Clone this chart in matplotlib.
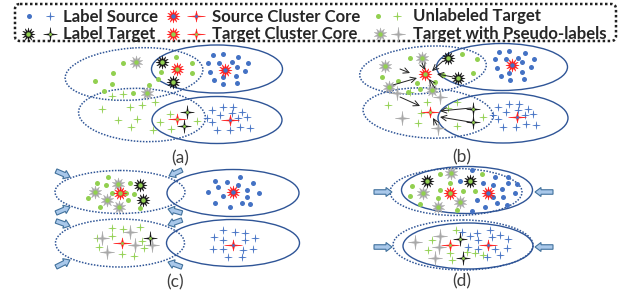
import numpy as np
import matplotlib.pyplot as plt
from matplotlib.patches import Ellipse, FancyArrow, FancyBboxPatch
from matplotlib.path import Path
from matplotlib.transforms import Affine2D

# colours
BLUE = '#4472C4'
GREEN = '#92D050'
RED = '#FF1A1A'
GRAY = '#A8A8A8'
BLACK = '#111111'
LINE = '#2F5597'

# ---------------- legend ----------------
legend_rows = [
    ['Label Source', 'Source Cluster Core', 'Unlabeled Target'],
    ['Label Target', 'Target Cluster Core', 'Target with Pseudo-labels'],
]
panel_names = ['(a)', '(b)', '(c)', '(d)']

# ---------------- panel (a) ----------------
a_ellipses = [  # cx, cy, w, h, angle, dotted
    (134, 74, 138, 52, -4, True), (217, 69, 131, 48, 0, False),
    (142, 115, 127, 53, 3, True), (217, 120, 130, 47, 0, False)]
a_green_dots = [(123, 63), (113, 73), (95, 81), (112, 84), (104, 91), (133, 93), (149, 85),
                (176, 57), (192, 63), (161, 72), (192, 73), (158, 79)]
a_gray_stars = [(136, 62), (147, 93)]
a_black_stars = [(162, 62), (173, 82)]
a_core_t = [(177, 69)]
a_blue_dots = [(213, 55), (223, 54), (238, 57), (208, 63), (219, 63), (232, 62), (248, 63),
               (210, 72), (245, 71), (237, 67), (223, 77), (236, 76), (214, 80), (223, 84), (237, 83)]
a_core_s = [(225, 70)]
a_green_plus = [(102, 109), (112, 96), (123, 94), (130, 107), (142, 105), (155, 102), (118, 120),
                (137, 119), (131, 127), (153, 130), (160, 122), (170, 114), (171, 129), (197, 121)]
a_black_plus = [(187, 112), (184, 126)]
a_core_tp = [(177, 119)]
a_blue_plus = [(212, 110), (223, 107), (233, 107), (220, 115), (232, 113), (242, 112), (212, 122),
               (238, 118), (247, 117), (217, 130), (230, 130), (240, 127), (250, 128), (207, 118)]
a_core_sp = [(230, 120)]

# ---------------- panel (b) ----------------
b_ellipses = [
    (423, 70, 127, 47, -5, True), (502, 67, 131, 47, 0, False),
    (428, 113, 130, 50, 3, True), (503, 118, 130, 50, 0, False)]
b_green_dots = [(410, 58), (462, 54), (477, 59), (382, 77), (398, 81), (420, 89), (435, 82),
                (443, 75), (473, 73), (417, 83), (408, 92)]
b_gray_stars = [(385, 66), (422, 58), (389, 87), (432, 90)]
b_black_stars = [(448, 58), (458, 78)]
b_core_t = [(425, 74)]
b_blue_dots = [(499, 52), (509, 51), (525, 53), (495, 59), (506, 59), (518, 58), (534, 59),
               (497, 68), (531, 67), (522, 62), (509, 73), (522, 72), (501, 76), (510, 80), (524, 79)]
b_core_s = [(512, 65)]
b_green_plus = [(388, 105), (427, 102), (457, 102), (421, 113), (418, 123), (457, 126),
                (483, 117), (448, 108), (410, 92)]
b_gray_plus = [(397, 93), (440, 97), (402, 118), (438, 128)]
b_black_plus = [(473, 109), (473, 122)]
b_core_tp = [(430, 112)]
b_blue_plus = [(498, 107), (509, 104), (519, 104), (506, 112), (518, 110), (528, 109), (498, 119),
               (525, 115), (533, 114), (503, 127), (516, 127), (526, 124), (536, 125), (493, 115)]
b_core_sp = [(517, 117)]
b_links = [  # arrows towards the cluster cores
    ((400, 69), (410, 73)), ((422, 63), (425, 70)), ((393, 85), (417, 78)),
    ((443, 61), (432, 71)), ((453, 77), (437, 74)), ((435, 88), (429, 79)),
    ((400, 97), (420, 106)), ((471, 108), (440, 111)), ((470, 122), (440, 117)),
    ((437, 125), (433, 118))]

# ---------------- panel (c) ----------------
c_ellipses = [
    (120, 192, 130, 43, 0, True), (233, 193, 132, 47, 0, False),
    (120, 243, 129, 48, 0, True), (233, 243, 133, 47, 0, False)]
c_green_dots = [(108, 177), (97, 183), (106, 185), (130, 183), (88, 198), (100, 207), (126, 193),
                (134, 194), (140, 208), (112, 193), (128, 200)]
c_gray_stars = [(118, 184), (95, 192), (107, 200), (119, 207)]
c_black_stars = [(140, 185), (143, 200)]
c_core_t = [(120, 193)]
c_blue_dots = [(215, 181), (240, 177), (218, 187), (238, 185), (253, 183), (208, 192), (223, 196),
               (247, 190), (247, 197), (259, 193), (215, 203), (242, 203), (250, 204), (230, 207),
               (227, 182)]
c_core_s = [(233, 192)]
c_green_plus = [(112, 228), (123, 229), (140, 227), (97, 238), (112, 236), (99, 247), (122, 254),
                (134, 256), (144, 248), (142, 241)]
c_gray_plus = [(130, 232), (102, 238), (135, 245), (107, 252), (152, 245)]
c_black_plus = [(150, 238)]
c_core_tp = [(122, 243)]
c_blue_plus = [(223, 230), (235, 232), (245, 233), (214, 237), (223, 240), (245, 240), (255, 238),
               (213, 249), (223, 249), (243, 250), (253, 249), (228, 257), (242, 257)]
c_core_sp = [(233, 245)]
c_push = [  # block arrows: tail, head
    ((56, 171), (70, 177)), ((56, 213), (70, 207)), ((56, 221), (70, 226)), ((56, 267), (70, 260)),
    ((182, 170), (169, 176)), ((182, 213), (168, 209)), ((182, 220), (168, 225)), ((182, 267), (168, 262))]

# ---------------- panel (d) ----------------
d_ellipses = [
    (456, 192, 132, 47, 0, True), (467, 190, 131, 47, 0, False),
    (463, 245, 140, 50, 0, True), (468, 246, 130, 46, 0, False)]
d_green_dots = [(440, 174), (482, 174), (412, 186), (450, 183), (410, 196), (420, 204), (438, 198),
                (457, 210), (475, 191), (440, 190), (463, 191)]
d_gray_stars = [(451, 173), (423, 193), (460, 202), (438, 207)]
d_black_stars = [(427, 181), (470, 181)]
d_core_t = [(450, 193)]
d_blue_dots = [(472, 170), (495, 177), (508, 177), (460, 181), (483, 183), (493, 185), (508, 183),
               (517, 184), (502, 189), (515, 193), (477, 200), (493, 197), (503, 197), (497, 203),
               (485, 207), (472, 211), (507, 205)]
d_core_s = [(488, 193)]
d_green_plus = [(456, 230), (432, 240), (428, 250), (450, 253), (452, 260), (467, 252), (475, 253),
                (483, 255)]
d_gray_plus = [(415, 242), (440, 236), (439, 247), (435, 258)]
d_black_plus = [(460, 239), (463, 258)]
d_core_tp = [(450, 245)]
d_blue_plus = [(462, 232), (470, 236), (477, 233), (490, 230), (500, 235), (508, 239), (478, 240),
               (492, 237), (468, 247), (478, 249), (495, 249), (507, 248), (500, 255), (487, 257)]
d_core_sp = [(488, 245)]
d_push = [((374, 192), (392, 192)), ((553, 192), (535, 192)),
          ((374, 247), (392, 247)), ((553, 247), (535, 247))]

# ---------------- marker shapes ----------------
sun = Path.unit_regular_star(12, 0.45)
sun8 = Path.unit_regular_star(10, 0.45)
spark = Path.unit_regular_star(4, 0.16)
spark_wide = spark.transformed(Affine2D().scale(1.6, 1.0))

fig = plt.figure(figsize=(6.22, 2.92), dpi=100)
ax = fig.add_axes([0, 0, 1, 1])
ax.set_xlim(0, 622)
ax.set_ylim(292, 0)
ax.axis('off')


def pts(p):
    p = np.array(p, dtype=float)
    return p[:, 0], p[:, 1]


def mark(p, path, ms, fc, ec=None, lw=0.6, z=3):
    if not p:
        return
    x, y = pts(p)
    ax.plot(x, y, ls='none', marker=path, ms=ms, mfc=fc, mec=ec or fc, mew=lw, zorder=z)


def star(p, col, centre, path=sun, ms=9.5):
    mark(p, path, ms, col, col, lw=0.3, z=4)
    mark(p, 'o', 3.2, centre, centre, lw=0, z=5)


def sparkle(p, col, centre=None, path=spark, ms=10):
    mark(p, path, ms, col, col, lw=0.3, z=4)
    if centre:
        mark(p, 'o', 2.0, centre, centre, lw=0, z=5)


def draw_ellipses(ells):
    for cx, cy, w, h, ang, dotted in ells:
        ax.add_patch(Ellipse((cx, cy), w, h, angle=ang, fill=False, ec=LINE,
                             lw=1.1 if dotted else 1.0, ls=(0, (1, 1)) if dotted else '-', zorder=2))


def block_arrows(arrows):
    for (x0, y0), (x1, y1) in arrows:
        ax.add_patch(FancyArrow(x0, y0, x1 - x0, y1 - y0, width=4.5, head_width=9, head_length=6,
                                length_includes_head=True, fc='#A9C8EA', ec='#41719C', lw=0.8, zorder=3))


panels = [
    (a_ellipses, a_green_dots, a_gray_stars, a_black_stars, a_core_t, a_blue_dots, a_core_s,
     a_green_plus, [], a_black_plus, a_core_tp, a_blue_plus, a_core_sp),
    (b_ellipses, b_green_dots, b_gray_stars, b_black_stars, b_core_t, b_blue_dots, b_core_s,
     b_green_plus, b_gray_plus, b_black_plus, b_core_tp, b_blue_plus, b_core_sp),
    (c_ellipses, c_green_dots, c_gray_stars, c_black_stars, c_core_t, c_blue_dots, c_core_s,
     c_green_plus, c_gray_plus, c_black_plus, c_core_tp, c_blue_plus, c_core_sp),
    (d_ellipses, d_green_dots, d_gray_stars, d_black_stars, d_core_t, d_blue_dots, d_core_s,
     d_green_plus, d_gray_plus, d_black_plus, d_core_tp, d_blue_plus, d_core_sp),
]

for (ells, gdots, gstars, kstars, core_t, bdots, core_s,
     gplus, grplus, kplus, core_tp, bplus, core_sp) in panels:
    draw_ellipses(ells)
    mark(gdots, 'o', 3.6, GREEN, lw=0)
    mark(bdots, 'o', 3.6, BLUE, lw=0)
    star(gstars, GRAY, GREEN, path=sun8, ms=9.5)
    star(kstars, BLACK, GREEN)
    star(core_t, RED, GREEN)
    star(core_s, RED, BLUE)
    sparkle(gplus, GREEN, ms=5.5)
    sparkle(bplus, BLUE, ms=5.5)
    sparkle(grplus, GRAY, ms=10.5)
    sparkle(kplus, BLACK, GREEN, ms=10)
    sparkle(core_tp, RED, GREEN, path=spark_wide, ms=13)
    sparkle(core_sp, RED, BLUE, path=spark_wide, ms=13)

for (x0, y0), (x1, y1) in b_links:
    ax.annotate('', xy=(x1, y1), xytext=(x0, y0),
                arrowprops=dict(arrowstyle='->', lw=0.7, color='#222222', shrinkA=0, shrinkB=0),
                zorder=6)

block_arrows(c_push)
block_arrows(d_push)

# panel labels
for name, (x, y) in zip(panel_names, [(180, 158), (462, 157), (175, 282), (462, 281)]):
    ax.text(x, y, name, ha='center', va='center', fontsize=12.5, color='#404040', family='Lato')

# legend box
ax.add_patch(FancyBboxPatch((15, 4), 601, 37, boxstyle='round,pad=0,rounding_size=5',
                            fill=False, ec='#222222', lw=1.8, ls=(0, (1, 1)), zorder=2))
row_y = [16, 34]
text_x = [63, 212, 413]
for r, labels in enumerate(legend_rows):
    for c, lab in enumerate(labels):
        ax.text(text_x[c], row_y[r] + 0.5, lab, ha='left', va='center', fontsize=12.1,
                fontweight='bold', color='#262626', family='Lato')

mark([(29, 16)], 'o', 3.6, BLUE, lw=0)
sparkle([(50, 16)], BLUE, ms=6)
star([(173, 16)], RED, BLUE)
sparkle([(196, 16)], RED, BLUE, path=spark_wide, ms=13)
mark([(378, 16)], 'o', 3.6, GREEN, lw=0)
sparkle([(397, 16)], GREEN, ms=6)
star([(28, 34)], BLACK, GREEN)
sparkle([(50, 34)], BLACK, GREEN, ms=10)
star([(173, 34)], RED, GREEN)
sparkle([(196, 34)], RED, GREEN, path=spark_wide, ms=13)
star([(380, 34)], GRAY, GREEN, path=sun8, ms=9.5)
sparkle([(398, 34)], GRAY, ms=10.5)

fig.savefig('out.png', dpi=100)
